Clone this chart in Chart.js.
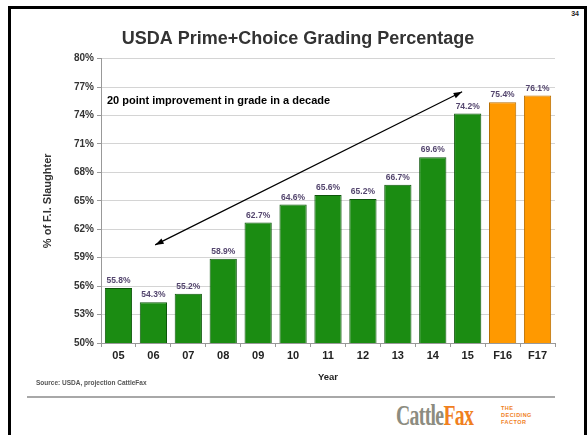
<!DOCTYPE html>
<html>
<head>
<meta charset="utf-8">
<script src="https://cdn.jsdelivr.net/npm/chart.js@4"></script>
<style>
  body { margin: 0; width: 587px; height: 435px; overflow: hidden; background: #fff; font-family: "Liberation Sans", Arial, sans-serif; position: relative; }
  #frame { position: absolute; left: 8px; top: 6px; width: 573px; height: 460px; border: 3px solid #000; }
  #wrap { position: absolute; left: 0; top: 0; width: 587px; height: 395px; }
  #page { position: absolute; right: 8px; top: 10px; font-size: 7px; font-weight: bold; color: #222; }
  #source { position: absolute; left: 36px; top: 379px; font-size: 6.5px; font-weight: bold; color: #555; }
  #rule { position: absolute; left: 27px; top: 396px; width: 528px; height: 0; border-top: 2px solid #a8a8a8; }
  #logo { position: absolute; left: 396px; top: 399px; font-family: "Liberation Serif", "DejaVu Serif", serif; font-weight: bold; font-size: 29px; color: #8c8c80; transform: scaleX(0.68); transform-origin: left top; letter-spacing: -1px; }
  #logo span { color: #f0801e; }
  #tag { position: absolute; left: 501px; top: 405px; font-size: 5.5px; font-weight: bold; color: #f0801e; line-height: 7px; letter-spacing: 0.5px; }
</style>
</head>
<body>
<div id="frame"></div>
<div id="page">34</div>
<div id="wrap"><canvas id="barChart"></canvas></div>
<div id="source">Source: USDA, projection CattleFax</div>
<div id="rule"></div>
<div id="logo">Cattle<span>Fax</span></div>
<div id="tag">THE<br>DECIDING<br>FACTOR</div>
<script>
// Prime+Choice share of FI slaughter, F = CattleFax projection
const years = ["05", "06", "07", "08", "09", "10", "11", "12", "13", "14", "15", "F16", "F17"];
const gradePct = [55.8, 54.3, 55.2, 58.9, 62.7, 64.6, 65.6, 65.2, 66.7, 69.6, 74.2, 75.4, 76.1];
const yTicks = [50, 53, 56, 59, 62, 65, 68, 71, 74, 77, 80];

const fill = years.map(y => y.startsWith("F") ? "#ff9900" : "#1b8c12");
const edge = years.map(y => y.startsWith("F") ? "#b86e00" : "#0c560a");

const font = "'Liberation Sans', Arial, sans-serif";

// value labels + the arrow note
const extras = {
  id: "extras",
  afterDatasetsDraw(chart) {
    const ctx = chart.ctx;
    const xs = chart.scales.x, ys = chart.scales.y;
    ctx.save();
    ctx.font = "bold 8.5px " + font;
    ctx.fillStyle = "#54466e";
    ctx.textAlign = "center";
    ctx.textBaseline = "bottom";
    chart.getDatasetMeta(0).data.forEach((bar, i) => {
      ctx.fillText(gradePct[i].toFixed(1) + "%", bar.x, bar.y - 3);
    });

    ctx.font = "bold 11px " + font;
    ctx.fillStyle = "#000";
    ctx.textAlign = "left";
    ctx.textBaseline = "middle";
    ctx.fillText("20 point improvement in grade in a decade", xs.left + 6, ys.getPixelForValue(75.55));

    const x1 = xs.getPixelForValue(1.05), y1 = ys.getPixelForValue(60.35);
    const x2 = xs.getPixelForValue(9.84), y2 = ys.getPixelForValue(76.5);
    ctx.strokeStyle = "#000";
    ctx.fillStyle = "#000";
    ctx.lineWidth = 1.2;
    ctx.beginPath();
    ctx.moveTo(x1, y1);
    ctx.lineTo(x2, y2);
    ctx.stroke();
    const ang = Math.atan2(y2 - y1, x2 - x1);
    [[x2, y2, ang], [x1, y1, ang + Math.PI]].forEach(([hx, hy, a]) => {
      ctx.beginPath();
      ctx.moveTo(hx, hy);
      ctx.lineTo(hx - 9 * Math.cos(a - 0.33), hy - 9 * Math.sin(a - 0.33));
      ctx.lineTo(hx - 9 * Math.cos(a + 0.33), hy - 9 * Math.sin(a + 0.33));
      ctx.closePath();
      ctx.fill();
    });
    ctx.restore();
  }
};

new Chart(document.getElementById("barChart"), {
  type: "bar",
  data: {
    labels: years,
    datasets: [{
      label: "Prime+Choice",
      data: gradePct,
      backgroundColor: fill,
      borderColor: edge,
      borderWidth: 1,
      borderSkipped: "bottom",
      barPercentage: 0.78,
      categoryPercentage: 1
    }]
  },
  options: {
    responsive: true,
    maintainAspectRatio: false,
    animation: false,
    layout: { padding: { left: 41, right: 32, top: 0, bottom: 10 } },
    plugins: {
      legend: { display: false },
      tooltip: { enabled: false },
      title: {
        display: true,
        text: "USDA Prime+Choice Grading Percentage",
        color: "#333",
        font: { family: font, size: 18, weight: "bold" },
        padding: { top: 28, bottom: 9 }
      }
    },
    scales: {
      x: {
        grid: { display: true, drawOnChartArea: false, offset: true, tickLength: 4, color: "#999" },
        border: { color: "#999" },
        ticks: { color: "#222", font: { family: font, size: 11, weight: "bold" }, padding: 2 },
        title: { display: true, text: "Year", color: "#222", font: { family: font, size: 9.5, weight: "bold" }, padding: { top: 0, bottom: 2 } },
        afterFit: s => { s.height = 42; }
      },
      y: {
        min: 50,
        max: 80,
        afterBuildTicks: s => { s.ticks = yTicks.map(v => ({ value: v })); },
        grid: { color: "#d4d4d4", tickLength: 4, tickColor: "#999" },
        border: { color: "#999" },
        ticks: { color: "#333", font: { family: font, size: 10, weight: "bold" }, padding: 3, callback: v => v + "%" },
        title: { display: true, text: "% of F.I. Slaughter", color: "#333", font: { family: font, size: 11, weight: "bold" }, padding: 0 },
        afterFit: s => { s.width = 60; }
      }
    }
  },
  plugins: [extras]
});
</script>
</body>
</html>
